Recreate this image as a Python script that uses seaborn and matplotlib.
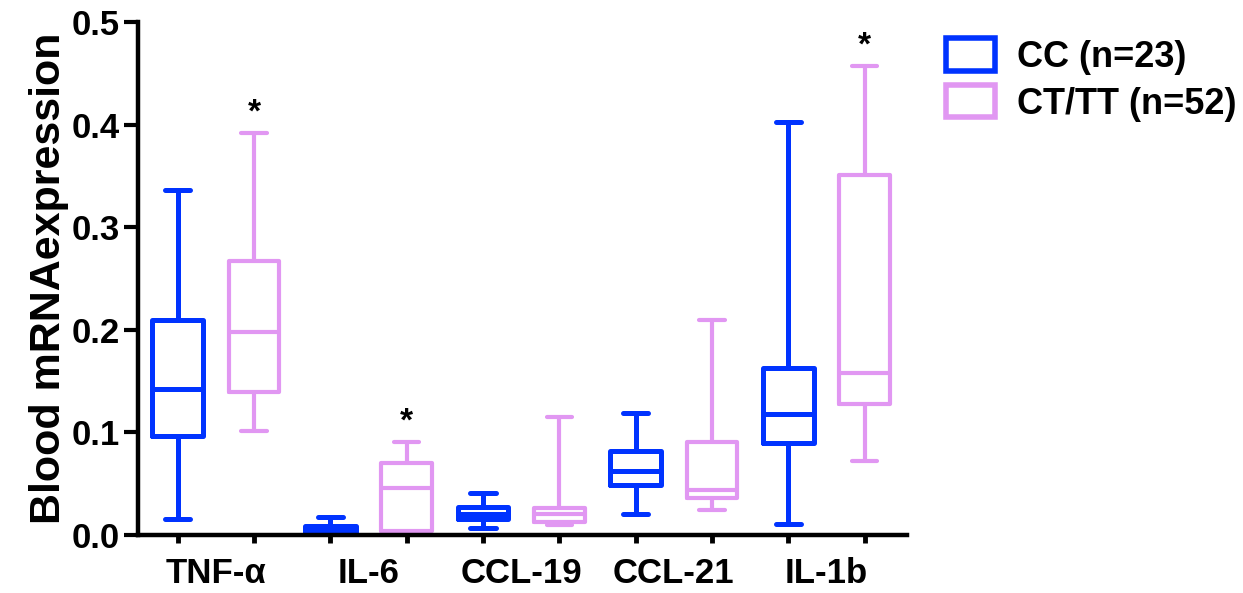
import numpy as np
import pandas as pd
import matplotlib.pyplot as plt
import seaborn as sns

# ==================================================
# Data: min, Q1, median, Q3, max
# ==================================================
genes = ["TNF-\u03b1", "IL-6", "CCL-19", "CCL-21", "IL-1b"]
groups = ["CC (n=23)", "CT/TT (n=52)"]

cc_min = [0.015, 0.001, 0.007, 0.020, 0.011]
cc_q1 = [0.096, 0.003, 0.015, 0.049, 0.090]
cc_med = [0.142, 0.005, 0.020, 0.062, 0.118]
cc_q3 = [0.209, 0.009, 0.027, 0.082, 0.163]
cc_max = [0.336, 0.017, 0.041, 0.119, 0.402]

ct_min = [0.101, 0.002, 0.010, 0.024, 0.072]
ct_q1 = [0.139, 0.004, 0.013, 0.036, 0.128]
ct_med = [0.198, 0.046, 0.020, 0.044, 0.158]
ct_q3 = [0.267, 0.070, 0.026, 0.091, 0.351]
ct_max = [0.392, 0.091, 0.115, 0.209, 0.457]

# genes marked significant (CT/TT vs CC)
signif = ["TNF-\u03b1", "IL-6", "IL-1b"]

colors = {"CC (n=23)": "#0033ff", "CT/TT (n=52)": "#e197f2"}

# ==================================================
# Long table: five values per box give exact quartiles
# ==================================================
rows = []
for grp, stats in zip(groups, [(cc_min, cc_q1, cc_med, cc_q3, cc_max),
                               (ct_min, ct_q1, ct_med, ct_q3, ct_max)]):
    for i, g in enumerate(genes):
        for s in stats:
            rows.append({"gene": g, "group": grp, "value": s[i]})
df = pd.DataFrame(rows)

# ==================================================
# Plot
# ==================================================
sns.set_style("ticks")
plt.rcParams["font.family"] = ["Liberation Sans", "DejaVu Sans"]
plt.rcParams["font.weight"] = "bold"
plt.rcParams["text.color"] = "black"
plt.rcParams["xtick.color"] = "black"
plt.rcParams["ytick.color"] = "black"
plt.rcParams["axes.labelcolor"] = "black"
plt.rcParams["axes.edgecolor"] = "black"

fig = plt.figure(figsize=(12.43, 5.93), dpi=100)
ax = fig.add_axes([0.111, 0.098, 0.619, 0.865])

sns.boxplot(data=df, x="gene", y="value", hue="group", order=genes,
            hue_order=groups, palette=colors, fill=False, whis=(0, 100),
            width=1.0, gap=0.34, linewidth=3.6, showfliers=False,
            legend=False, ax=ax)

# thinner pink lines, rounded ends
pink = tuple(np.round(plt.matplotlib.colors.to_rgb(colors["CT/TT (n=52)"]), 3))
for ln in ax.lines:
    ln.set_solid_capstyle("round")
    if ln.get_color() == colors["CT/TT (n=52)"]:
        ln.set_linewidth(3.0)
for p in ax.patches:
    p.set_joinstyle("round")
    if tuple(np.round(p.get_edgecolor()[:3], 3)) == pink:
        p.set_linewidth(3.0)

# significance stars
for i, g in enumerate(genes):
    if g in signif:
        ax.text(i + 0.25, ct_max[i] + 0.004, "*", ha="center", va="bottom",
                fontsize=24, fontweight="bold")

ax.set_xlim(-0.51, 4.53)
ax.set_ylim(0, 0.5)
ax.set_yticks([0.0, 0.1, 0.2, 0.3, 0.4, 0.5])
ax.set_yticklabels(["0.0", "0.1", "0.2", "0.3", "0.4", "0.5"])
ax.set_xlabel("")
ax.set_ylabel("Blood mRNAexpression", fontsize=31, fontweight="bold", labelpad=2)

ax.set_xticks(np.arange(len(genes)))
ax.set_xticklabels(genes)
ax.set_xticks(np.concatenate([np.arange(len(genes)) - 0.25,
                              np.arange(len(genes)) + 0.25]), minor=True)
ax.tick_params(axis="x", which="major", length=0, pad=16, labelsize=25)
ax.tick_params(axis="x", which="minor", length=6, width=3.5, direction="out")
ax.tick_params(axis="y", which="major", length=10, width=3, labelsize=25, pad=3)
for lab in ax.get_xticklabels() + ax.get_yticklabels():
    lab.set_fontweight("bold")

sns.despine(ax=ax)
for sp in ["left", "bottom"]:
    ax.spines[sp].set_linewidth(3.2)

# legend with outlined patches
handles = [plt.Rectangle((0, 0), 1, 1, facecolor="white", edgecolor=colors[g],
                         linewidth=4) for g in groups]
fig.legend(handles, groups, loc="upper left", bbox_to_anchor=(0.735, 0.99),
           frameon=False, handlelength=1.35, handleheight=1.0,
           handletextpad=0.6, labelspacing=0.28, prop={"weight": "bold", "size": 26})

fig.savefig("out.png", dpi=100)
plt.close(fig)
